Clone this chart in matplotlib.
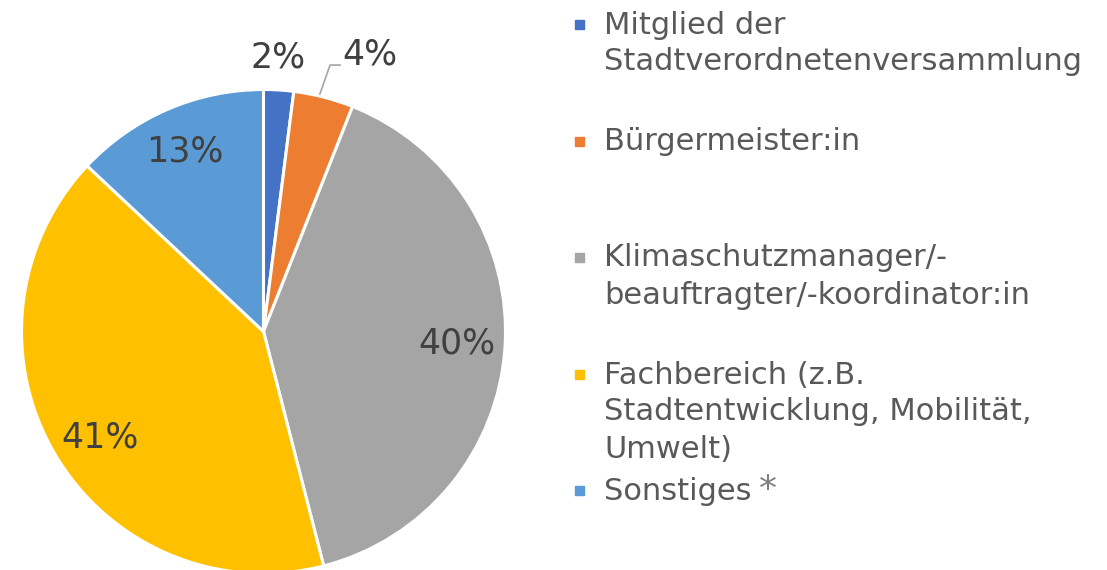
import numpy as np
import matplotlib.pyplot as plt
from matplotlib.patches import Rectangle

plt.rcParams['font.family'] = ['DejaVu Sans']

# data
labels = ['Mitglied der\nStadtverordnetenversammlung',
          'Bürgermeister:in',
          'Klimaschutzmanager/-\nbeauftragter/-koordinator:in',
          'Fachbereich (z.B.\nStadtentwicklung, Mobilität,\nUmwelt)',
          'Sonstiges']
shares = [2, 4, 40, 41, 13]
colors = ['#4472C4', '#ED7D31', '#A5A5A5', '#FFC000', '#5B9BD5']

W, H = 1107, 570
fig = plt.figure(figsize=(W / 100, H / 100), dpi=100)

# pie centre (263.5, 331.5) px, radius 242 px
cx, cy, r = 263.5, 331.5, 242
ax = fig.add_axes([(cx - r) / W, (H - cy - r) / H, 2 * r / W, 2 * r / H])
wedges, texts, autotexts = ax.pie(
    shares, colors=colors, startangle=90, counterclock=False,
    autopct='%1.0f%%', pctdistance=0.8,
    wedgeprops=dict(edgecolor='white', linewidth=2.2),
    textprops=dict(color='#404040', fontsize=25))
ax.set_xlim(-1, 1)
ax.set_ylim(-1, 1)
ax.set_aspect('auto')
for a in autotexts:
    a.set_clip_on(False)

# label placement tweaks (small slices outside with leader line)
autotexts[0].set_position((0.06, 1.134))
autotexts[1].set_position((0.44, 1.143))
autotexts[3].set_position((-0.676, -0.44))
autotexts[4].set_position((-0.324, 0.742))
ax.plot([0.233, 0.275, 0.316], [0.981, 1.101, 1.101], color='#A5A5A5', lw=1.2,
        clip_on=False)

# legend drawn by hand
line_h = 37
entry_top = [25, 142, 258, 375, 491]
tx = 604
for lab, col, y0 in zip(labels, colors, entry_top):
    fig.patches.append(Rectangle(((575) / W, (H - y0 - 4) / H), 9 / W, 9 / H,
                                 transform=fig.transFigure, color=col))
    for i, line in enumerate(lab.split('\n')):
        fig.text(tx / W, (H - y0 - i * line_h) / H, line, fontsize=22,
                 color='#595959', va='center', ha='left')
fig.text(768 / W, (H - 490) / H, '*', fontsize=26, color='#7F7F7F',
         va='center', ha='center')

fig.savefig('out.png', dpi=100)
